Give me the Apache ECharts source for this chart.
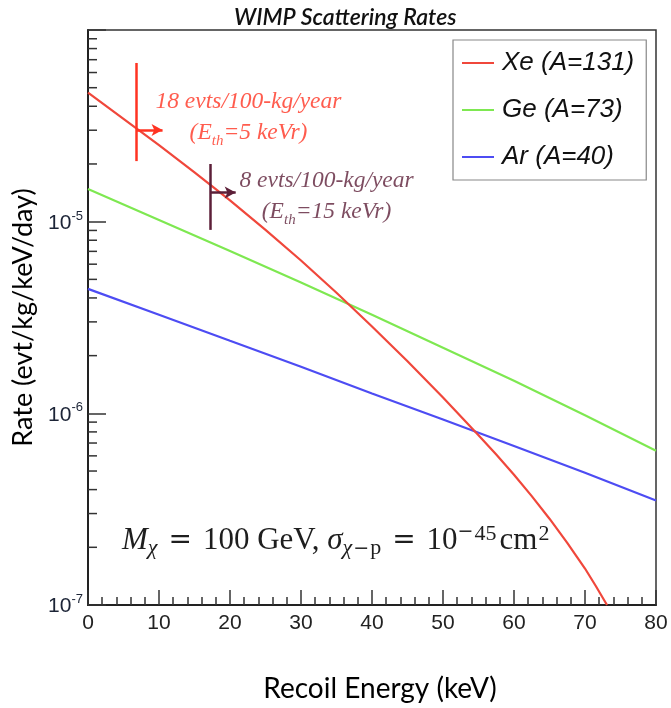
<!DOCTYPE html>
<html><head><meta charset="utf-8">
<script src="https://cdn.jsdelivr.net/npm/echarts@6/dist/echarts.min.js"></script>
<style>html,body{margin:0;padding:0;background:#fff}#c{width:671px;height:708px}</style>
</head><body><div id="c"></div>
<script>
// ---- data ----
const xeEnergy = [0, 5, 10, 15, 20, 25, 30, 35, 40, 45, 50, 55, 57.5, 60, 62.5, 65, 67.5, 70, 71.5, 73.1];
const xeRate   = [4.71e-5, 3.44e-5, 2.51e-5, 1.81e-5, 1.29e-5, 9.06e-6, 6.27e-6, 4.26e-6, 2.84e-6, 1.87e-6, 1.21e-6, 7.69e-7, 6.10e-7, 4.78e-7, 3.70e-7, 2.82e-7, 2.11e-7, 1.55e-7, 1.26e-7, 1.0e-7];
const energy   = [0, 10, 20, 30, 40, 50, 60, 70, 80];
const geRate   = [1.48e-5, 1.02e-5, 7.03e-6, 4.81e-6, 3.27e-6, 2.20e-6, 1.48e-6, 9.77e-7, 6.38e-7];
const arRate   = [4.46e-6, 3.27e-6, 2.39e-6, 1.75e-6, 1.27e-6, 9.29e-7, 6.76e-7, 4.90e-7, 3.51e-7];
const seriesNames = ['Xe (A=131)', 'Ge (A=73)', 'Ar (A=40)'];
const xTickLabels = ['0', '10', '20', '30', '40', '50', '60', '70', '80'];
const yTickValues = [1e-7, 1e-6, 1e-5];
const yTickExps   = ['-7', '-6', '-5'];
const yMinorTicks = [2e-7, 3e-7, 4e-7, 5e-7, 6e-7, 7e-7, 8e-7, 9e-7,
                     2e-6, 3e-6, 4e-6, 5e-6, 6e-6, 7e-6, 8e-6, 9e-6,
                     2e-5, 3e-5, 4e-5, 5e-5, 6e-5, 7e-5, 8e-5, 9e-5];
// threshold markers: [energy, rate top, rate bottom, arrow rate, arrow end energy]
const marker5  = [6.86, 6.73e-5, 2.07e-5, 3.01e-5, 10.5];
const marker15 = [17.2, 2.0e-5, 9.06e-6, 1.42e-5, 20.8];
// annotation text anchors [energy, rate]
const note5Pos  = [22.6, 3.51e-5];
const note15Pos = [33.6, 1.36e-5];

const pairs = (xs, ys) => xs.map((x, i) => [x, ys[i]]);
const C = { xe: '#f0473b', ge: '#7ee851', ar: '#4d4cf3', red: '#ff3322', dark: '#5c1f38', axis: '#222' };

function markerLines(m, color) {
  return {
    silent: true, animation: false, symbol: ['none', 'none'],
    label: { show: false },
    lineStyle: { color: color, width: 2.5, type: 'solid' },
    emphasis: { disabled: true },
    data: [
      [{ coord: [m[0], m[1]] }, { coord: [m[0], m[2]] }],
      [{ coord: [m[0], m[3]], symbol: 'none' }, { coord: [m[4], m[3]], symbol: 'arrow', symbolSize: [9, 11] }]
    ]
  };
}
function noteRich(color) {
  return {
    a: { fontFamily: 'Liberation Serif', fontStyle: 'italic', fontSize: 23.5, color: color, lineHeight: 31 },
    s: { fontFamily: 'Liberation Serif', fontStyle: 'italic', fontSize: 15, color: color, lineHeight: 31, verticalAlign: 'bottom' }
  };
}
const serif = 'Liberation Serif', sym = 'DejaVu Serif', ink = '#1e1e1e';
const formulaRich = {
  i:  { fontFamily: serif, fontStyle: 'italic', fontSize: 31, fill: ink, lineHeight: 36, verticalAlign: 'middle' },
  r:  { fontFamily: serif, fontSize: 31, fill: ink, lineHeight: 36, verticalAlign: 'middle' },
  cm: { fontFamily: serif, fontSize: 31, fill: ink, lineHeight: 36, verticalAlign: 'middle', padding: [0, 1, 0, 3] },
  eq: { fontFamily: sym, fontSize: 28, fill: ink, lineHeight: 36, verticalAlign: 'middle', padding: [0, 11, 0, 11] },
  sb: { fontFamily: serif, fontStyle: 'italic', fontSize: 22, fill: ink, lineHeight: 20, verticalAlign: 'bottom' },
  sbm:{ fontFamily: sym, fontSize: 19, fill: ink, lineHeight: 20, verticalAlign: 'bottom', padding: [0, 1, 0, 1] },
  sbr:{ fontFamily: serif, fontSize: 22, fill: ink, lineHeight: 20, verticalAlign: 'bottom' },
  sp: { fontFamily: serif, fontSize: 22, fill: ink, lineHeight: 12, verticalAlign: 'top' },
  spm:{ fontFamily: sym, fontSize: 19, fill: ink, lineHeight: 12, verticalAlign: 'top', padding: [0, 1, 0, 0] }
};

const chart = echarts.init(document.getElementById('c'), null, { renderer: 'canvas' });
const option = {
  animation: false,
  backgroundColor: '#fff',
  title: {
    text: 'WIMP Scattering Rates', left: 229, top: 1,
    textStyle: { fontFamily: 'Lato', fontStyle: 'italic', fontWeight: 600, fontSize: 23, color: '#111' }
  },
  legend: {
    orient: 'vertical', left: 453, top: 40, data: seriesNames, icon: 'rect',
    backgroundColor: '#fff', borderColor: '#888', borderWidth: 1.2,
    padding: [8, 12, 8, 9], itemGap: 17, itemWidth: 32, itemHeight: 2,
    textStyle: { fontFamily: 'Liberation Sans', fontStyle: 'italic', fontSize: 26, color: '#111', lineHeight: 30, padding: [0, 0, 0, 3] }
  },
  grid: { left: 88, right: 15, top: 30, bottom: 103, show: true, borderColor: '#333', borderWidth: 1.5, backgroundColor: 'transparent' },
  xAxis: {
    type: 'value', min: 0, max: 80, interval: 10,
    axisLine: { show: true, lineStyle: { color: C.axis, width: 2 } },
    axisTick: { show: true, inside: true, length: 15, lineStyle: { color: '#333', width: 1.5 } },
    minorTick: { show: true, splitNumber: 5, length: 8, lineStyle: { color: '#333', width: 1.5 } },
    splitLine: { show: false },
    axisLabel: { margin: 8, fontFamily: 'Liberation Sans', fontSize: 21, color: '#222',
      formatter: v => xTickLabels[Math.round(v / 10)] ?? '' },
    name: 'Recoil Energy (keV)', nameLocation: 'middle', nameGap: 70,
    nameTextStyle: { fontFamily: 'Lato', fontSize: 28, color: '#000', padding: [0, 0, 0, 16] }
  },
  yAxis: {
    type: 'log', logBase: 10, min: 1e-7, max: 1e-4,
    axisLine: { show: true, lineStyle: { color: C.axis, width: 2 } },
    axisTick: { show: true, inside: true, length: 18, lineStyle: { color: '#333', width: 1.5 } },
    minorTick: { show: false },
    splitLine: { show: false },
    axisLabel: {
      margin: 5,
      formatter: v => {
        const i = yTickValues.findIndex(t => Math.abs(t - v) / t < 1e-6);
        return i < 0 ? '' : '{b|10}{s|' + yTickExps[i] + '}';
      },
      rich: {
        b: { fontFamily: 'Liberation Sans', fontSize: 21, color: '#1c2436', lineHeight: 24, verticalAlign: 'bottom' },
        s: { fontFamily: 'Liberation Sans', fontSize: 13, color: '#1c2436', lineHeight: 24, verticalAlign: 'top' }
      }
    },
    name: 'Rate (evt/kg/keV/day)', nameLocation: 'middle', nameGap: 38, nameRotate: 90,
    nameTextStyle: { fontFamily: 'Lato', fontSize: 27, color: '#000' }
  },
  graphic: [{
    type: 'text', left: 122, top: 523, silent: true,
    style: {
      text: '{i|M}{sb|χ}{eq|=}{r|100 GeV, }{i|σ}{sb|χ}{sbm|−}{sbr|p}{eq|=}{r|10}{spm|−}{sp|45}{cm|cm}{sp|2}',
      rich: formulaRich
    }
  }],
  series: [
    { name: seriesNames[0], type: 'line', data: pairs(xeEnergy, xeRate), showSymbol: false, symbol: 'none',
      smooth: false, lineStyle: { color: C.xe, width: 2.2 }, itemStyle: { color: C.xe }, z: 3 },
    { name: seriesNames[1], type: 'line', data: pairs(energy, geRate), showSymbol: false, symbol: 'none',
      smooth: false, lineStyle: { color: C.ge, width: 2.2 }, itemStyle: { color: C.ge }, z: 2 },
    { name: seriesNames[2], type: 'line', data: pairs(energy, arRate), showSymbol: false, symbol: 'none',
      smooth: false, lineStyle: { color: C.ar, width: 2.2 }, itemStyle: { color: C.ar }, z: 2 },
    { name: 'yMinor', type: 'custom', silent: true, z: 4, clip: false,
      data: yMinorTicks.map(v => [0, v]),
      renderItem: (params, api) => {
        const p = api.coord([api.value(0), api.value(1)]);
        return { type: 'line', shape: { x1: p[0], y1: p[1], x2: p[0] + 9, y2: p[1] },
                 style: { stroke: '#333', lineWidth: 1.5 } };
      } },
    { name: 'note5', type: 'scatter', symbolSize: 0, data: [note5Pos], silent: true, z: 5,
      label: { show: true, position: 'inside', align: 'center', verticalAlign: 'middle',
        formatter: '{a|18 evts/100-kg/year}\n{a|(E}{s|th}{a|=5 keVr)}', rich: noteRich(C.red) },
      markLine: markerLines(marker5, C.red) },
    { name: 'note15', type: 'scatter', symbolSize: 0, data: [note15Pos], silent: true, z: 5,
      label: { show: true, position: 'inside', align: 'center', verticalAlign: 'middle',
        formatter: '{a|8 evts/100-kg/year}\n{a|(E}{s|th}{a|=15 keVr)}', rich: noteRich(C.dark) },
      markLine: markerLines(marker15, C.dark) }
  ]
};
chart.setOption(option);
</script></body></html>
